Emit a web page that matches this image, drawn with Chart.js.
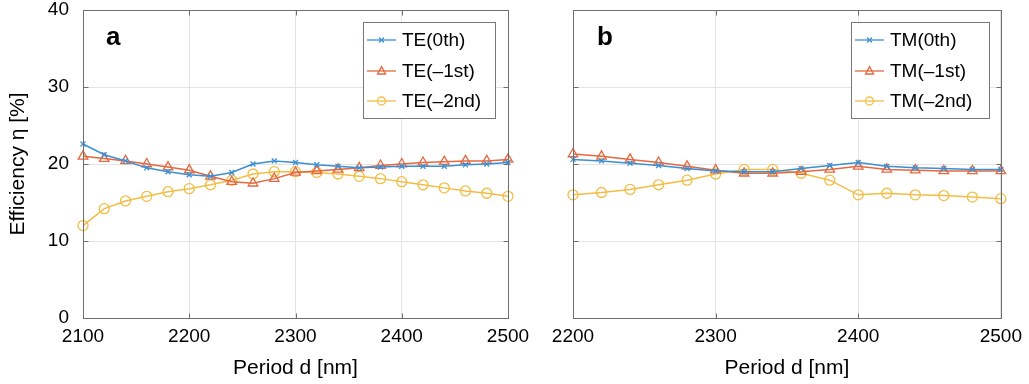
<!DOCTYPE html>
<html>
<head>
<meta charset="utf-8">
<title>Efficiency vs period</title>
<script src="https://cdn.jsdelivr.net/npm/chart.js@4.4.1/dist/chart.umd.min.js"></script>
<style>
  body { margin: 0; background: #fff; }
  .wrap { position: relative; width: 1029px; height: 384px; }
  canvas { position: absolute; top: 0; }
</style>
</head>
<body>
<div class="wrap">
  <canvas id="chart-a" width="540" height="384" style="left:0"></canvas>
  <canvas id="chart-b" width="489" height="384" style="left:540px"></canvas>
</div>
<script>
// panel a (TE)
const periodA = [2100, 2120, 2140, 2160, 2180, 2200, 2220, 2240, 2260, 2280, 2300,
                 2320, 2340, 2360, 2380, 2400, 2420, 2440, 2460, 2480, 2500];
const te0  = [22.6, 21.2, 20.4, 19.5, 19.0, 18.6, 18.4, 18.9, 20.0, 20.4, 20.2,
              19.9, 19.7, 19.5, 19.6, 19.7, 19.7, 19.7, 19.9, 20.0, 20.2];
const teM1 = [21.0, 20.7, 20.4, 20.0, 19.6, 19.2, 18.4, 17.7, 17.5, 18.1, 18.9,
              19.1, 19.3, 19.5, 19.8, 20.0, 20.2, 20.3, 20.4, 20.4, 20.6];
const teM2 = [12.0, 14.2, 15.2, 15.8, 16.4, 16.8, 17.3, 17.9, 18.7, 19.0, 19.0,
              18.9, 18.7, 18.4, 18.1, 17.7, 17.3, 16.9, 16.5, 16.2, 15.8];

// panel b (TM)
const periodB = [2200, 2220, 2240, 2260, 2280, 2300, 2320, 2340,
                 2360, 2380, 2400, 2420, 2440, 2460, 2480, 2500];
const tm0  = [20.6, 20.4, 20.1, 19.8, 19.4, 19.1, 19.0, 19.0,
              19.4, 19.8, 20.2, 19.7, 19.5, 19.4, 19.3, 19.3];
const tmM1 = [21.3, 21.0, 20.6, 20.2, 19.7, 19.2, 18.8, 18.8,
              19.0, 19.3, 19.7, 19.3, 19.2, 19.1, 19.1, 19.1];
const tmM2 = [16.0, 16.3, 16.7, 17.3, 17.9, 18.7, 19.3, 19.3,
              18.8, 17.9, 16.0, 16.2, 16.0, 15.9, 15.7, 15.5];

const labelsA = ["TE(0th)", "TE(\u20131st)", "TE(\u20132nd)"];
const labelsB = ["TM(0th)", "TM(\u20131st)", "TM(\u20132nd)"];

const FONT = "'Liberation Sans', Arial, sans-serif";
const BLUE = "#3d8fd4";
const ORANGE = "#e4693f";
const YELLOW = "#f3bd45";
const FRAME = "#6e6e6e";
const GRID = "#e4e4e4";

function points(xs, ys) {
  return xs.map(function (x, i) { return { x: x, y: ys[i] }; });
}

function series(label, xs, ys, color, style, radius) {
  return {
    label: label,
    data: points(xs, ys),
    borderColor: color,
    backgroundColor: "rgba(255,255,255,0)",
    borderWidth: 1.5,
    pointStyle: style,
    pointRadius: radius,
    pointBorderColor: color,
    pointBackgroundColor: "rgba(255,255,255,0)",
    pointBorderWidth: 1.3,
    tension: 0,
    clip: false,
  };
}

function drawMarker(ctx, style, x, y, r) {
  ctx.beginPath();
  if (style === "crossRot") {
    ctx.moveTo(x - r, y - r); ctx.lineTo(x + r, y + r);
    ctx.moveTo(x - r, y + r); ctx.lineTo(x + r, y - r);
  } else if (style === "triangle") {
    ctx.moveTo(x, y - r * 1.1);
    ctx.lineTo(x + r, y + r * 0.75);
    ctx.lineTo(x - r, y + r * 0.75);
    ctx.closePath();
  } else {
    ctx.arc(x, y, r, 0, Math.PI * 2);
  }
  ctx.stroke();
}

// box around the plot, inward ticks, panel letter and legend
const framePlugin = {
  id: "frame",
  afterDraw(chart, args, opts) {
    const ctx = chart.ctx;
    const a = chart.chartArea;
    const sx = chart.scales.x, sy = chart.scales.y;
    const L = Math.round(a.left) + 0.5, R = Math.round(a.right) + 0.5;
    const T = Math.round(a.top) + 0.5, B = Math.round(a.bottom) + 0.5;
    ctx.save();
    ctx.strokeStyle = FRAME;
    ctx.lineWidth = 1;
    ctx.beginPath();
    sx.ticks.forEach(function (t) {
      const px = Math.round(sx.getPixelForValue(t.value)) + 0.5;
      ctx.moveTo(px, T); ctx.lineTo(px, T + 5);
      ctx.moveTo(px, B); ctx.lineTo(px, B - 5);
    });
    sy.ticks.forEach(function (t) {
      const py = Math.round(sy.getPixelForValue(t.value)) + 0.5;
      ctx.moveTo(L, py); ctx.lineTo(L + 5, py);
      ctx.moveTo(R, py); ctx.lineTo(R - 5, py);
    });
    ctx.stroke();
    ctx.strokeRect(L, T, R - L, B - T);

    // panel letter
    ctx.fillStyle = "#000";
    ctx.font = "bold 26px " + FONT;
    ctx.textBaseline = "alphabetic";
    ctx.fillText(opts.letter, opts.letterX, opts.letterY);

    // legend
    const lg = opts.legend;
    ctx.fillStyle = "#fff";
    ctx.fillRect(lg.x, lg.y, lg.w, lg.h);
    ctx.strokeStyle = "#777";
    ctx.strokeRect(lg.x + 0.5, lg.y + 0.5, lg.w, lg.h);
    ctx.font = "19px " + FONT;
    ctx.textBaseline = "middle";
    chart.data.datasets.forEach(function (ds, i) {
      const y = lg.rows[i];
      ctx.strokeStyle = ds.borderColor;
      ctx.lineWidth = 1.3;
      ctx.beginPath();
      ctx.moveTo(lg.x + 4, y); ctx.lineTo(lg.x + 33, y);
      ctx.stroke();
      drawMarker(ctx, ds.pointStyle, lg.x + 18.5, y, ds.pointStyle === "crossRot" ? 2.5 : 4);
      ctx.fillStyle = "#000";
      ctx.fillText(ds.label, lg.x + 39, y + 1);
    });
    ctx.restore();
  },
};

function makeChart(id, opts) {
  const ctx = document.getElementById(id).getContext("2d");
  return new Chart(ctx, {
    type: "line",
    data: {
      datasets: [
        series(opts.labels[0], opts.xs, opts.ys[0], BLUE, "crossRot", 3.5),
        series(opts.labels[1], opts.xs, opts.ys[1], ORANGE, "triangle", 5.5),
        series(opts.labels[2], opts.xs, opts.ys[2], YELLOW, "circle", 5),
      ],
    },
    plugins: [framePlugin],
    options: {
      responsive: false,
      animation: false,
      layout: { padding: { top: 10, right: opts.padRight, left: 0, bottom: 0 } },
      plugins: {
        legend: { display: false },
        tooltip: { enabled: false },
        frame: opts.frame,
      },
      scales: {
        x: {
          type: "linear",
          min: opts.xs[0],
          max: 2500,
          ticks: {
            stepSize: 100,
            padding: 7,
            maxRotation: 0,
            autoSkip: false,
            color: "#000",
            font: { size: 19, family: FONT },
            callback: function (v) { return String(v); },
          },
          grid: { color: GRID, drawTicks: false },
          border: { display: false },
          title: {
            display: true,
            text: "Period d [nm]",
            color: "#000",
            font: { size: 21, family: FONT },
            padding: { top: 0, bottom: 3 },
          },
          afterFit: function (s) { s.height = 66; },
        },
        y: {
          min: 0,
          max: 40,
          ticks: {
            stepSize: 10,
            padding: 14,
            color: opts.yLabels ? "#000" : "rgba(0,0,0,0)",
            font: { size: 19, family: FONT, lineHeight: 1 },
          },
          grid: { color: GRID, drawTicks: false },
          border: { display: false },
          title: {
            display: opts.yLabels,
            text: "Efficiency \u03b7 [%]",
            color: "#000",
            font: { size: 21, family: FONT },
            padding: { top: 6, bottom: 0 },
          },
          afterFit: function (s) {
            s.width = opts.yWidth;
            s.paddingTop = 0;
            s.paddingBottom = 0;
          },
        },
      },
    },
  });
}

makeChart("chart-a", {
  xs: periodA,
  ys: [te0, teM1, teM2],
  labels: labelsA,
  padRight: 32,
  yWidth: 83,
  yLabels: true,
  frame: {
    letter: "a", letterX: 106, letterY: 45,
    legend: { x: 363, y: 22, w: 132, h: 96, rows: [40, 71, 101] },
  },
});

makeChart("chart-b", {
  xs: periodB,
  ys: [tm0, tmM1, tmM2],
  labels: labelsB,
  padRight: 27,
  yWidth: 33,
  yLabels: false,
  frame: {
    letter: "b", letterX: 57, letterY: 45,
    legend: { x: 311, y: 22, w: 138, h: 96, rows: [40, 71, 101] },
  },
});
</script>
</body>
</html>
